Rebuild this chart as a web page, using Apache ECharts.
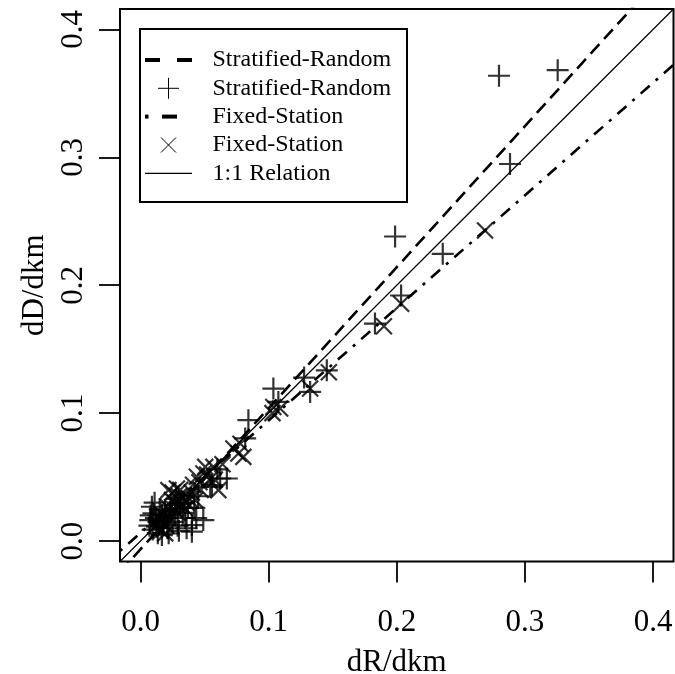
<!DOCTYPE html>
<html>
<head>
<meta charset="utf-8">
<script src="https://cdn.jsdelivr.net/npm/echarts@6/dist/echarts.min.js"></script>
<style>html,body{margin:0;padding:0;background:#fff;}#c{width:675px;height:674px;}</style>
</head>
<body>
<div id="c"></div>
<script>
// ---- data ----
var tickValues = [0.0, 0.1, 0.2, 0.3, 0.4];
var axisRange = [-0.016, 0.416];
var stratifiedRandom = [
  [0.0076,0.0164],[0.0089,0.0268],[0.0101,0.0216],[0.0128,0.0112],[0.0167,0.0047],
  [0.0167,0.0203],[0.0140,0.0150],[0.0150,0.0250],[0.0180,0.0130],[0.0200,0.0180],
  [0.0210,0.0100],[0.0230,0.0230],[0.0250,0.0150],[0.0270,0.0200],[0.0290,0.0120],
  [0.0310,0.0294],[0.0330,0.0220],[0.0350,0.0180],[0.0370,0.0260],[0.0401,0.0125],
  [0.0401,0.0073],[0.0435,0.0180],[0.0490,0.0164],[0.0450,0.0350],[0.0544,0.0424],
  [0.0557,0.0437],[0.0622,0.0489],[0.0674,0.0489],[0.0600,0.0560],[0.0817,0.0802],
  [0.0842,0.0945],[0.1037,0.1192],[0.1076,0.1088],[0.1277,0.1278],[0.1324,0.1166],
  [0.1454,0.1335],[0.1830,0.1700],[0.1987,0.2381],[0.2034,0.1920],[0.2359,0.2246],
  [0.2798,0.3638],[0.3256,0.3682],[0.2884,0.2948],
  [0.0070,0.0120],[0.0080,0.0200],[0.0095,0.0090],[0.0110,0.0300],[0.0120,0.0180],
  [0.0135,0.0060],[0.0190,0.0240],[0.0220,0.0060],[0.0240,0.0280],[0.0280,0.0330],
  [0.0300,0.0080],[0.0340,0.0300],[0.0420,0.0260],[0.0360,0.0100]
];
var fixedStation = [
  [0.0193,0.0060],[0.0150,0.0100],[0.0170,0.0150],[0.0200,0.0120],[0.0218,0.0398],
  [0.0245,0.0320],[0.0284,0.0411],[0.0260,0.0250],[0.0300,0.0350],[0.0320,0.0280],
  [0.0349,0.0255],[0.0380,0.0330],[0.0427,0.0320],[0.0440,0.0502],[0.0491,0.0528],
  [0.0505,0.0580],[0.0569,0.0580],[0.0608,0.0398],[0.0580,0.0480],[0.0640,0.0600],
  [0.0725,0.0724],[0.0764,0.0685],[0.0803,0.0658],[0.0780,0.0760],[0.1037,0.1048],
  [0.1090,0.1036],[0.1030,0.1000],[0.1324,0.1192],[0.1470,0.1320],[0.1900,0.1680],
  [0.2034,0.1856],[0.2689,0.2428],
  [0.0120,0.0120],[0.0140,0.0180],[0.0160,0.0080],[0.0180,0.0200],[0.0210,0.0270],
  [0.0230,0.0180],[0.0250,0.0380],[0.0270,0.0300],[0.0290,0.0220],[0.0310,0.0400],
  [0.0330,0.0340],[0.0360,0.0300],[0.0400,0.0380],[0.0410,0.0440],[0.0460,0.0460],
  [0.0520,0.0520],[0.0470,0.0400],[0.0540,0.0480]
];
// regression lines: [intercept, slope]
var srFit = [-0.0065, 1.103];
var fsFit = [0.0063, 0.880];
var oneToOne = [0, 1];
var legendLabels = ['Stratified-Random','Stratified-Random','Fixed-Station','Fixed-Station','1:1 Relation'];

function ablinePoints(fit){
  return [[axisRange[0], fit[0] + fit[1]*axisRange[0]], [axisRange[1], fit[0] + fit[1]*axisRange[1]]];
}

var FONT = 'Liberation Serif';
var chart = echarts.init(document.getElementById('c'), null, {renderer:'canvas'});

var axisCommon = {
  type: 'value', min: axisRange[0], max: axisRange[1],
  splitLine: {show:false},
  axisLine: {show:false, onZero:false},
  axisTick: {show:true, inside:false, length:21, customValues: tickValues, lineStyle:{color:'#000', width:1.8}},
  axisLabel: {customValues: tickValues, color:'#000', fontFamily: FONT, fontSize: 31,
    formatter: function(v){ return v.toFixed(1); }},
  nameLocation: 'middle',
  nameTextStyle: {color:'#000', fontFamily: FONT, fontSize: 31}
};

var rows = [60, 88.3, 116.6, 145, 173.3];
var graphics = [
  {type:'rect', shape:{x:140, y:29, width:267, height:173}, style:{fill:'#fff', stroke:'#000', lineWidth:2}, z:10},
  {type:'line', shape:{x1:145,y1:rows[0],x2:160,y2:rows[0]}, style:{stroke:'#000', lineWidth:4}, z:11},
  {type:'line', shape:{x1:177,y1:rows[0],x2:192,y2:rows[0]}, style:{stroke:'#000', lineWidth:4}, z:11},
  {type:'line', shape:{x1:158,y1:rows[1],x2:179,y2:rows[1]}, style:{stroke:'#000', lineWidth:1}, z:11},
  {type:'line', shape:{x1:168.5,y1:rows[1]-10.5,x2:168.5,y2:rows[1]+10.5}, style:{stroke:'#000', lineWidth:1}, z:11},
  {type:'line', shape:{x1:145,y1:rows[2],x2:148.5,y2:rows[2]}, style:{stroke:'#000', lineWidth:4}, z:11},
  {type:'line', shape:{x1:162,y1:rows[2],x2:177,y2:rows[2]}, style:{stroke:'#000', lineWidth:4}, z:11},
  {type:'line', shape:{x1:161,y1:rows[3]-7.5,x2:176,y2:rows[3]+7.5}, style:{stroke:'#000', lineWidth:1}, z:11},
  {type:'line', shape:{x1:161,y1:rows[3]+7.5,x2:176,y2:rows[3]-7.5}, style:{stroke:'#000', lineWidth:1}, z:11},
  {type:'line', shape:{x1:145,y1:rows[4],x2:192,y2:rows[4]}, style:{stroke:'#000', lineWidth:1.2}, z:11}
];
legendLabels.forEach(function(t, i){
  graphics.push({type:'text', x:212.5, y:rows[i], z:12,
    style:{text:t, fill:'#000', font:'24px "Liberation Serif"', textVerticalAlign:'middle', textAlign:'left'}});
});

var option = {
  animation: false,
  backgroundColor: '#fff',
  grid: {left:120, right:1.5, top:9, bottom:112.5, show:true, borderColor:'#000', borderWidth:2,
         backgroundColor:'transparent', containLabel:false, outerBoundsMode:'none'},
  xAxis: Object.assign({}, axisCommon, {name:'dR/dkm', nameGap: 86,
    axisLabel: Object.assign({}, axisCommon.axisLabel, {margin: 46})}),
  yAxis: Object.assign({}, axisCommon, {name:'dD/dkm', nameGap: 69, nameRotate: 90,
    axisLabel: Object.assign({}, axisCommon.axisLabel, {margin: 31, rotate: 90})}),
  series: [
    {type:'line', name:'1:1 Relation', data: ablinePoints(oneToOne), symbol:'none', clip:true,
     lineStyle:{color:'#000', width:1.2, type:'solid'}, z:3},
    {type:'line', name:'Stratified-Random fit', data: ablinePoints(srFit), symbol:'none', clip:true,
     lineStyle:{color:'#000', width:2.6, type:[13,7], cap:'butt'}, z:3},
    {type:'line', name:'Fixed-Station fit', data: ablinePoints(fsFit), symbol:'none', clip:true,
     lineStyle:{color:'#000', width:2.6, type:[3,8,12,8], cap:'butt'}, z:3},
    {type:'scatter', name:'Stratified-Random', data: stratifiedRandom,
     symbol:'path://M0,11L22,11M11,0L11,22', symbolSize:22,
     itemStyle:{color:'none', borderColor:'#000', borderWidth:2.2}, z:4},
    {type:'scatter', name:'Fixed-Station', data: fixedStation,
     symbol:'path://M0,0L16,16M16,0L0,16', symbolSize:16,
     itemStyle:{color:'none', borderColor:'#000', borderWidth:2.2}, z:4}
  ],
  graphic: graphics
};
chart.setOption(option);
</script>
</body>
</html>
